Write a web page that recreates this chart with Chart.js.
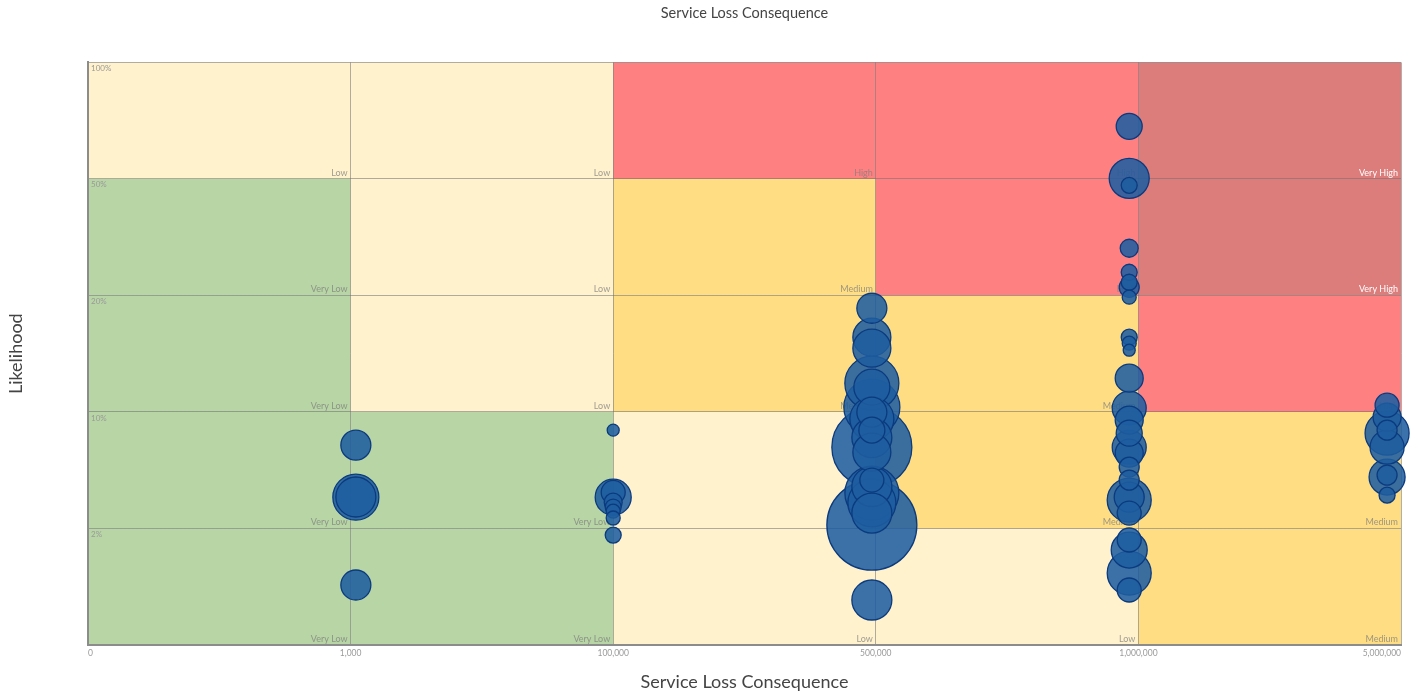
<!DOCTYPE html>
<html>
<head>
<meta charset="utf-8">
<title>Service Loss Consequence</title>
<script src="https://cdn.jsdelivr.net/npm/chart.js@4.4.1/dist/chart.umd.min.js"></script>
<style>
  html, body { margin: 0; padding: 0; background: #fff; }
  #wrap { width: 1415px; height: 698px; }
</style>
</head>
<body>
<div id="wrap"><canvas id="riskChart"></canvas></div>
<script>
// band edges along each axis
const consequenceLabels = ['0', '1,000', '100,000', '500,000', '1,000,000', '5,000,000'];
const likelihoodLabels = ['', '2%', '10%', '20%', '50%', '100%'];

// risk level of every cell, bottom row first, left to right
const riskMatrix = [
  ['Very Low', 'Very Low', 'Low', 'Low', 'Medium'],
  ['Very Low', 'Very Low', 'Low', 'Medium', 'Medium'],
  ['Very Low', 'Low', 'Medium', 'Medium', 'High'],
  ['Very Low', 'Low', 'Medium', 'High', 'Very High'],
  ['Low', 'Low', 'High', 'High', 'Very High']
];

// services: position in consequence / likelihood bands and bubble size
const bubbleX = [
  1.02, 1.02, 1.02, 1.02,
  2.0, 2.0, 2.0, 2.0, 2.0, 2.0, 2.0, 2.0,
  2.985, 2.985, 2.985, 2.985, 2.985, 2.985, 2.985, 2.985, 2.985, 2.985,
  2.985, 2.985, 2.985, 2.985, 2.985, 2.985, 2.985, 2.985, 2.985,
  3.965, 3.965, 3.965, 3.965, 3.965, 3.965, 3.965, 3.965, 3.965, 3.965,
  3.965, 3.965, 3.965, 3.965, 3.965, 3.965, 3.965, 3.965, 3.965, 3.965,
  3.965, 3.965, 3.965, 3.965, 3.965, 3.965,
  4.947, 4.947, 4.947, 4.947, 4.947, 4.947, 4.947, 4.947
];
const bubbleY = [
  1.715, 1.269, 1.27, 0.515,
  1.844, 1.269, 1.31, 1.226, 1.184, 1.149, 1.09, 0.943,
  2.89, 2.642, 2.547, 2.247, 2.041, 2.213, 1.998, 1.844, 1.698, 1.655,
  1.78, 1.94, 1.415, 1.304, 1.36, 1.22, 1.132, 1.029, 0.386,
  4.451, 4.005, 3.945, 3.405, 3.199, 3.113, 3.07, 2.985, 2.642, 2.59,
  2.53, 2.29, 2.033, 1.93, 1.818, 1.698, 1.647, 1.527, 1.415, 1.244,
  1.269, 1.132, 0.901, 0.815, 0.617, 0.472,
  2.058, 1.955, 1.818, 1.844, 1.698, 1.441, 1.458, 1.286
];
const bubbleR = [
  15, 23, 20, 15,
  6, 18, 12, 9, 8, 7, 7, 8,
  15, 19, 19, 27, 28, 18, 15, 13, 40, 19,
  20, 22, 12, 27, 20, 24, 20, 45, 20,
  13, 20, 8, 9, 8, 8, 10, 7, 8, 7,
  6, 14, 17, 14, 13, 17, 14, 10, 10, 22,
  15, 12, 12, 18, 22, 12,
  12, 14, 22, 10, 17, 18, 10, 8
];

const riskFill = {
  'Very Low': '#B8D5A5',
  'Low': '#FFF2CD',
  'Medium': '#FFDD83',
  'High': '#FF8080',
  'Very High': '#DC7C7B'
};

const services = bubbleX.map((x, i) => ({ x: x, y: bubbleY[i], r: bubbleR[i] }))
  .sort((a, b) => b.r - a.r);

// coloured cells under the grid, level names in each cell's corner
const riskCells = {
  id: 'riskCells',
  beforeDraw(chart) {
    const { ctx, scales: { x, y } } = chart;
    ctx.save();
    riskMatrix.forEach((row, r) => row.forEach((level, c) => {
      const left = x.getPixelForValue(c);
      const right = x.getPixelForValue(c + 1);
      const top = y.getPixelForValue(r + 1);
      const bottom = y.getPixelForValue(r);
      ctx.fillStyle = riskFill[level];
      ctx.fillRect(left, top, right - left, bottom - top);
    }));
    ctx.restore();
  },
  beforeDatasetsDraw(chart) {
    const { ctx, scales: { x, y } } = chart;
    ctx.save();
    ctx.font = '9px Lato';
    ctx.textAlign = 'right';
    ctx.textBaseline = 'alphabetic';
    riskMatrix.forEach((row, r) => row.forEach((level, c) => {
      ctx.fillStyle = level === 'Very High' ? '#ffffff' : 'rgba(125,125,125,0.75)';
      ctx.fillText(level, x.getPixelForValue(c + 1) - 3, y.getPixelForValue(r) - 3);
    }));
    ctx.restore();
  }
};

const ctx = document.getElementById('riskChart').getContext('2d');
new Chart(ctx, {
  type: 'bubble',
  data: {
    datasets: [{
      label: 'Services',
      data: services,
      backgroundColor: 'rgba(30, 93, 160, 0.87)',
      borderColor: '#0B3A7E',
      borderWidth: 1.3,
      clip: false
    }]
  },
  options: {
    responsive: true,
    maintainAspectRatio: false,
    animation: false,
    layout: { autoPadding: false, padding: { right: 14 } },
    plugins: {
      legend: { display: false },
      tooltip: { enabled: false },
      title: {
        display: true,
        fullSize: false,
        text: 'Service Loss Consequence',
        color: '#444',
        font: { family: 'Lato', size: 14.5, weight: 'normal' },
        padding: { top: 5, bottom: 40 }
      }
    },
    scales: {
      x: {
        type: 'linear',
        min: 0,
        max: 5,
        afterFit: scale => {
          scale.height = 53;
          scale.paddingLeft = 0;
          scale.paddingRight = 0;
        },
        ticks: {
          stepSize: 1,
          autoSkip: false,
          maxRotation: 0,
          align: 'inner',
          padding: 3,
          color: '#9a9a9a',
          font: { family: 'Lato', size: 8.5 },
          callback: v => consequenceLabels[v]
        },
        grid: { color: 'rgba(110,110,110,0.55)', drawTicks: false },
        border: { color: '#8c8c8c', width: 2 },
        title: {
          display: true,
          text: 'Service Loss Consequence',
          color: '#444',
          font: { family: 'Lato', size: 18 },
          padding: { top: 0, bottom: 5 }
        }
      },
      y: {
        type: 'linear',
        min: 0,
        max: 5,
        afterFit: scale => { scale.width = 88; },
        ticks: {
          stepSize: 1,
          mirror: true,
          padding: 3,
          labelOffset: 6,
          color: '#999',
          font: { family: 'Lato', size: 8 },
          callback: v => likelihoodLabels[v]
        },
        grid: { color: 'rgba(110,110,110,0.55)', drawTicks: false },
        border: { color: '#8c8c8c', width: 2 },
        title: {
          display: true,
          text: 'Likelihood',
          color: '#444',
          font: { family: 'Lato', size: 18 },
          padding: { top: 5, bottom: 0 }
        }
      }
    }
  },
  plugins: [riskCells]
});
</script>
</body>
</html>
